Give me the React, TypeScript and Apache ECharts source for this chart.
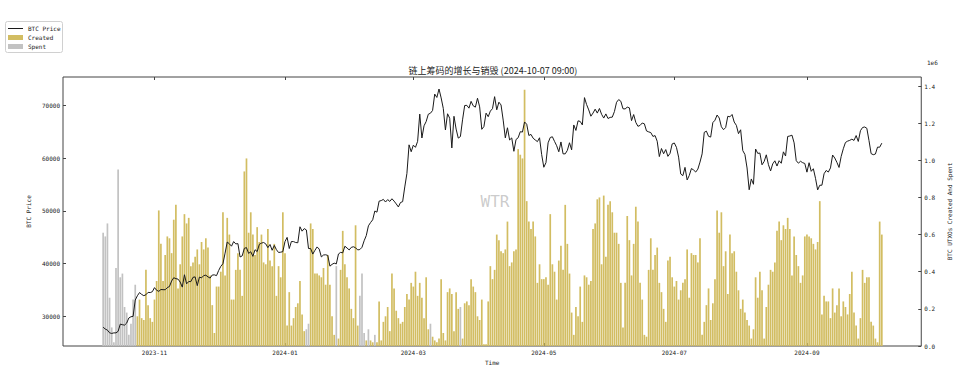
import React, { useEffect, useRef } from 'react';
import * as echarts from 'echarts';

// ---------- DATA ----------
// daily series, first day 2023-10-08, last day 2024-10-06
const firstDay = '2023-10-08';

// BTC daily price (USD)
const priceOct23 = [27935, 27584, 27391, 26873, 26756, 26863, 26861, 27160, 28519, 28415, 28328, 28719, 29683, 29919, 29993, 33087, 33901, 34502, 34156, 33910, 34089, 34538, 34502, 34667];
const priceNov23 = [35437, 34938, 34732, 35082, 35049, 35037, 35443, 35655, 36693, 37313, 37138, 37054, 36502, 35537, 37880, 36154, 36596, 36585, 37386, 37476, 35813, 37432, 37289, 37720, 37796, 37479, 37254, 37832, 37858, 37713];
const priceDec23 = [38689, 39476, 39978, 41980, 44080, 43746, 43292, 44166, 43726, 43779, 41244, 41450, 42890, 43023, 41929, 42240, 41364, 42623, 42270, 43652, 43869, 43997, 43740, 43016, 43613, 42520, 43442, 42627, 42099, 42156, 42265];
const priceJan24 = [44167, 44958, 42848, 44179, 44162, 43989, 43943, 46970, 46139, 46627, 46368, 42853, 42842, 41796, 42511, 43154, 42742, 41262, 41618, 41665, 41545, 39507, 39845, 40077, 39933, 41816, 42120, 42035, 43288, 42952, 42582];
const priceFeb24 = [43075, 43185, 42992, 42583, 42658, 43084, 44318, 45301, 47147, 47771, 48293, 49958, 49742, 51826, 51938, 52160, 51663, 52122, 51779, 52284, 51839, 51304, 50731, 51571, 51733, 54522, 57085, 62504, 61198];
const priceMar24 = [62440, 62029, 63167, 68330, 63801, 66106, 66925, 68300, 68498, 69019, 72123, 71481, 73083, 71396, 69403, 65315, 68391, 67548, 61912, 67913, 65491, 63779, 64062, 67234, 69958, 69987, 69455, 70744, 69892, 69645, 71333];
const priceApr24 = [69702, 65446, 65980, 68508, 67837, 68896, 69362, 71632, 69139, 70587, 70060, 67195, 63821, 65738, 63426, 63811, 61276, 63512, 63843, 64994, 64926, 66837, 66407, 64276, 64481, 63755, 63419, 63114, 63841, 60636];
const priceMay24 = [58254, 59123, 62889, 63891, 64031, 63161, 62334, 61187, 63049, 60793, 60793, 61448, 62901, 61552, 66267, 65232, 67051, 66940, 66278, 71448, 70136, 69122, 67929, 68526, 69265, 68518, 69394, 68296, 67578, 68364, 67491];
const priceJun24 = [67706, 67751, 68804, 70567, 71082, 70757, 69342, 69305, 69648, 69507, 67090, 68242, 66757, 66012, 66191, 66639, 66490, 65140, 64961, 64828, 64096, 64252, 63180, 60277, 61804, 60811, 61604, 60320, 60887, 62678];
const priceJul24 = [62851, 62029, 60173, 56977, 56662, 58231, 55849, 56705, 58009, 57742, 57344, 57899, 59231, 60787, 64870, 65097, 64118, 63974, 66710, 67163, 68154, 67585, 65927, 65372, 65777, 67912, 67813, 68255, 66820, 66201, 64619];
const priceAug24 = [65357, 61415, 60680, 58116, 53991, 56034, 55027, 61710, 60880, 60945, 58719, 59354, 60609, 58737, 57560, 58894, 59478, 58483, 59493, 59012, 61175, 60381, 64094, 64178, 64333, 62880, 59504, 59027, 59388, 59119, 58969];
const priceSep24 = [57326, 59113, 57484, 57971, 56160, 53962, 54841, 54854, 57020, 57649, 57343, 58127, 60571, 60006, 59182, 58213, 60314, 61760, 62947, 63201, 63349, 63578, 63339, 64262, 63144, 65181, 65790, 65888, 65635, 63330];
const priceOct24 = [60838, 60633, 60754, 62068, 62052, 62819];

// UTXOs created per day (x 1e6); 0 on days with net spending
const createdOct23 = [0, 0, 0, 0, 0, 0, 0, 0, 0, 0, 0, 0, 0, 0, 0, 0, 0.16, 0.25, 0.15, 0.14, 0.41, 0.22, 0.15, 0.13];
const createdNov23 = [0.25, 0.35, 0.73, 0.55, 0.35, 0.49, 0.59, 0.58, 0.50, 0.68, 0.76, 0.31, 0.44, 0.59, 0.71, 0.66, 0.69, 0.43, 0.45, 0.48, 0.52, 0.44, 0.56, 0.52, 0.58, 0.53, 0.38, 0.22, 0.07, 0.32];
const createdDec23 = [0.32, 0.40, 0.72, 0.38, 0.69, 0.60, 0.25, 0.25, 0.41, 0.50, 0.41, 0.27, 0.94, 1.01, 0.61, 0.72, 0.60, 0.49, 0.64, 0.56, 0.60, 0.45, 0.44, 0.63, 0.46, 0.43, 0.55, 0.27, 0.43, 0.37, 0.72];
const createdJan24 = [0.50, 0.11, 0.29, 0.11, 0.15, 0.21, 0.23, 0.35, 0.17, 0.08, 0, 0, 0.66, 0.63, 0.39, 0.39, 0.38, 0.37, 0.42, 0.33, 0.49, 0.33, 0.16, 0.06, 0, 0.04, 0.41, 0.62, 0.44, 0.37, 0.31];
const createdFeb24 = [0.20, 0.15, 0.65, 0.11, 0, 0, 0, 0.03, 0, 0.03, 0.02, 0, 0.02, 0.24, 0.03, 0.13, 0.16, 0.21, 0.08, 0.39, 0.31, 0.19, 0.15, 0.12, 0.13, 0.21, 0.28, 0.25, 0.34];
const createdMar24 = [0.32, 0.40, 0.27, 0.34, 0.26, 0.15, 0.37, 0.09, 0, 0.05, 0.03, 0.02, 0.04, 0.36, 0.07, 0.03, 0.29, 0.31, 0.28, 0.08, 0.29, 0.20, 0, 0.04, 0.23, 0.24, 0.22, 0.36, 0.32, 0.29, 0.16];
const createdApr24 = [0.14, 0.25, 0.01, 0.01, 0.24, 0.43, 0.36, 0.41, 0.60, 0.57, 0.51, 0.50, 0.52, 0.67, 0.43, 0.45, 0.51, 0.52, 1.06, 1.03, 1.01, 1.38, 0.78, 0.67, 0.63, 0.67, 0.59, 0.34, 0.44, 0.36];
const createdMay24 = [0.36, 0.37, 0.33, 0.71, 0.44, 0.40, 0.25, 0.46, 0.54, 0.41, 0.76, 0.55, 0.39, 0.18, 0.06, 0.21, 0.16, 0.32, 0.13, 0.38, 0.37, 0.33, 0.35, 0.63, 0.66, 0.79, 0.80, 0.44, 0.81, 0.48, 0.76];
const createdJun24 = [0.78, 0.72, 0.61, 0.61, 0.55, 0.34, 0.10, 0.34, 0.70, 0.57, 0.38, 0.55, 0.75, 0.67, 0.34, 0.25, 0.06, 0.05, 0.41, 0.58, 0.41, 0.49, 0.53, 0.34, 0.29, 0.20, 0.13, 0.46, 0.48, 0.37];
const createdJul24 = [0.32, 0.35, 0.25, 0.30, 0.34, 0.36, 0.52, 0.26, 0.50, 0.49, 0.49, 0.45, 0.58, 0.06, 0.13, 0.22, 0.31, 0.14, 0.23, 0.36, 0.73, 0.61, 0.72, 0.43, 0.51, 0.28, 0.60, 0.50, 0.51, 0.40, 0.30];
const createdAug24 = [0.20, 0.25, 0.18, 0.14, 0.11, 0.04, 0.09, 0.37, 0.26, 0.40, 0.30, 0.04, 0.21, 0.33, 0.41, 0.40, 0.45, 0.62, 0.67, 0.57, 0.65, 0.63, 0.69, 0.63, 0.38, 0.59, 0.49, 0.43, 0.34, 0.38, 0.59];
const createdSep24 = [0.60, 0.59, 0.58, 0.55, 0.52, 0.56, 0.78, 0.17, 0.27, 0.24, 0.24, 0.15, 0.31, 0.18, 0.22, 0.31, 0.16, 0.24, 0.21, 0.17, 0.28, 0.40, 0.18, 0.11, 0.04, 0.15, 0.41, 0.34, 0.37, 0.37];
const createdOct24 = [0.13, 0.11, 0.04, 0.02, 0.67, 0.60];

// UTXOs spent (x 1e6) on days with net spending
const spentDays: [string, number][] = [
  ['2023-10-08', 0.61], ['2023-10-09', 0.59], ['2023-10-10', 0.66], ['2023-10-11', 0.26],
  ['2023-10-12', 0.10], ['2023-10-13', 0.02], ['2023-10-14', 0.42], ['2023-10-15', 0.95],
  ['2023-10-16', 0.37], ['2023-10-17', 0.39], ['2023-10-18', 0.21], ['2023-10-19', 0.18],
  ['2023-10-20', 0.06], ['2023-10-21', 0.12], ['2023-10-22', 0.25], ['2023-10-23', 0.33],
  ['2024-01-11', 0.09], ['2024-01-12', 0.12], ['2024-01-25', 0.43],
  ['2024-02-05', 0.27], ['2024-02-06', 0.39], ['2024-02-07', 0.07], ['2024-02-09', 0.09], ['2024-02-12', 0.06],
  ['2024-03-09', 0.12], ['2024-03-23', 0.21],
];

const xTickLabels = ['2023-11', '2024-01', '2024-03', '2024-05', '2024-07', '2024-09'];
const priceTicks = [30000, 40000, 50000, 60000, 70000];
const flowTicks = [0, 0.2, 0.4, 0.6, 0.8, 1.0, 1.2, 1.4];
const legendNames = ['BTC Price', 'Created', 'Spent'];

const price = [
  ...priceOct23, ...priceNov23, ...priceDec23, ...priceJan24, ...priceFeb24, ...priceMar24,
  ...priceApr24, ...priceMay24, ...priceJun24, ...priceJul24, ...priceAug24, ...priceSep24, ...priceOct24,
];
const created = [
  ...createdOct23, ...createdNov23, ...createdDec23, ...createdJan24, ...createdFeb24, ...createdMar24,
  ...createdApr24, ...createdMay24, ...createdJun24, ...createdJul24, ...createdAug24, ...createdSep24, ...createdOct24,
];

const DAY = 86400000;
const MONO = '"DejaVu Sans Mono", "Liberation Mono", monospace';
const CJK = '"Noto Sans CJK SC", "DejaVu Sans", sans-serif';
const GOLD = '#d2bd62';
const GREY = '#c2c2c2';
const LINE = '#1a1a1a';

function fmtMonth(v: number) {
  const d = new Date(v);
  return `${d.getUTCFullYear()}-${String(d.getUTCMonth() + 1).padStart(2, '0')}`;
}

export default function App() {
  const ref = useRef<HTMLDivElement>(null);
  useEffect(() => {
    const chart = echarts.init(ref.current!, undefined, { renderer: 'svg' });
    const t0 = Date.parse(firstDay);
    const priceData = price.map((p, i) => [t0 + i * DAY, p]);
    const createdData = created.map((v, i) => [t0 + i * DAY, v]).filter((d) => d[1] > 0);
    const spentData = spentDays.map(([d, v]) => [Date.parse(d), v]);
    const nov1 = Date.UTC(2023, 10, 1);
    const xMin = nov1 - 42.77 * DAY;
    const xMax = nov1 + 358.44 * DAY;
    const xTicks = xTickLabels.map((s) => Date.parse(s + '-01'));
    const axisColor = '#444';
    const labelStyle = { fontSize: 6, fontFamily: MONO, color: '#222' };
    const txt = (x: number, y: number, text: string, extra: any = {}) => ({
      type: 'text', x, y, z: 20,
      style: {
        text, fontSize: 6, fontFamily: MONO, fill: '#222',
        align: 'left', verticalAlign: 'middle', textAlign: 'left', textVerticalAlign: 'middle', ...extra,
      },
    });

    chart.setOption({
      animation: false,
      backgroundColor: '#fff',
      grid: {
        left: 63, right: 34, top: 77, bottom: 29, containLabel: false,
        show: true, borderColor: axisColor, borderWidth: 1, backgroundColor: 'transparent',
      },
      xAxis: [
        {
          type: 'value', min: xMin, max: xMax,
          name: 'Time', nameLocation: 'middle', nameGap: 11,
          nameTextStyle: { fontSize: 6, fontFamily: MONO, color: '#222' },
          axisLine: { show: false },
          axisTick: { show: true, inside: true, length: 3, customValues: xTicks, lineStyle: { color: axisColor } },
          axisLabel: { ...labelStyle, margin: 3, customValues: xTicks, formatter: (v: number) => fmtMonth(v) },
          splitLine: { show: false },
        },
        {
          type: 'value', min: xMin, max: xMax, position: 'top',
          axisLine: { show: false },
          axisTick: { show: true, inside: true, length: 3, customValues: xTicks, lineStyle: { color: axisColor } },
          axisLabel: { show: false, customValues: xTicks },
          splitLine: { show: false },
        },
      ],
      yAxis: [
        {
          type: 'value', min: 24375, max: 75360, position: 'left',
          name: 'BTC Price', nameLocation: 'middle', nameGap: 22, nameRotate: 90,
          nameTextStyle: { fontSize: 6, fontFamily: MONO, color: '#222' },
          axisLine: { show: false },
          axisTick: { show: true, inside: true, length: 3, customValues: priceTicks, lineStyle: { color: axisColor } },
          axisLabel: { ...labelStyle, margin: 3, customValues: priceTicks, formatter: (v: number) => String(v) },
          splitLine: { show: false },
        },
        {
          type: 'value', min: 0, max: 1.4485, position: 'right',
          name: 'BTC UTXOs Created And Spent', nameLocation: 'middle', nameGap: 15, nameRotate: 90,
          nameTextStyle: { fontSize: 6, fontFamily: MONO, color: '#222' },
          axisLine: { show: false },
          axisTick: { show: true, inside: true, length: 3, customValues: flowTicks, lineStyle: { color: axisColor } },
          axisLabel: { ...labelStyle, margin: 3, customValues: flowTicks, formatter: (v: number) => v.toFixed(1) },
          splitLine: { show: false },
        },
      ],
      graphic: [
        {
          type: 'text', x: 493, y: 70, z: 10,
          style: {
            text: '链上筹码的增长与销毁 (2024-10-07 09:00)', fontSize: 9, fontFamily: CJK, fill: '#222',
            align: 'center', verticalAlign: 'middle', textAlign: 'center', textVerticalAlign: 'middle',
          },
        },
        txt(927, 62, '1e6'),
        {
          type: 'text', x: 495, y: 201, z: 10,
          style: {
            text: 'WTR', fontSize: 16, fontFamily: MONO, fill: 'rgba(160,160,160,0.55)',
            align: 'center', verticalAlign: 'middle', textAlign: 'center', textVerticalAlign: 'middle',
          },
        },
        // legend box
        {
          type: 'rect', z: 15,
          shape: { x: 5.5, y: 21.5, width: 57, height: 31, r: 2 },
          style: { fill: '#fff', stroke: '#d0d0d0', lineWidth: 1 },
        },
        {
          type: 'line', z: 20,
          shape: { x1: 8, y1: 28.5, x2: 23, y2: 28.5 },
          style: { stroke: LINE, lineWidth: 1 },
        },
        { type: 'rect', z: 20, shape: { x: 8, y: 35, width: 15, height: 5 }, style: { fill: GOLD } },
        { type: 'rect', z: 20, shape: { x: 8, y: 44, width: 15, height: 5 }, style: { fill: GREY } },
        txt(28, 28.5, legendNames[0]),
        txt(28, 37.5, legendNames[1]),
        txt(28, 46.5, legendNames[2]),
      ],
      series: [
        {
          name: legendNames[1], type: 'bar', xAxisIndex: 0, yAxisIndex: 1, data: createdData,
          barWidth: 1.7, barGap: '-100%', itemStyle: { color: GOLD }, z: 1,
        },
        {
          name: legendNames[2], type: 'bar', xAxisIndex: 0, yAxisIndex: 1, data: spentData,
          barWidth: 1.7, barGap: '-100%', itemStyle: { color: GREY }, z: 1,
        },
        {
          name: legendNames[0], type: 'line', xAxisIndex: 0, yAxisIndex: 0, data: priceData,
          symbol: 'none', showSymbol: false, lineStyle: { color: LINE, width: 1 }, itemStyle: { color: LINE }, z: 5,
        },
      ],
    });
    return () => chart.dispose();
  }, []);
  return <div ref={ref} style={{ position: 'fixed', left: 0, top: 0, width: 960, height: 375, background: '#fff' }} />;
}
